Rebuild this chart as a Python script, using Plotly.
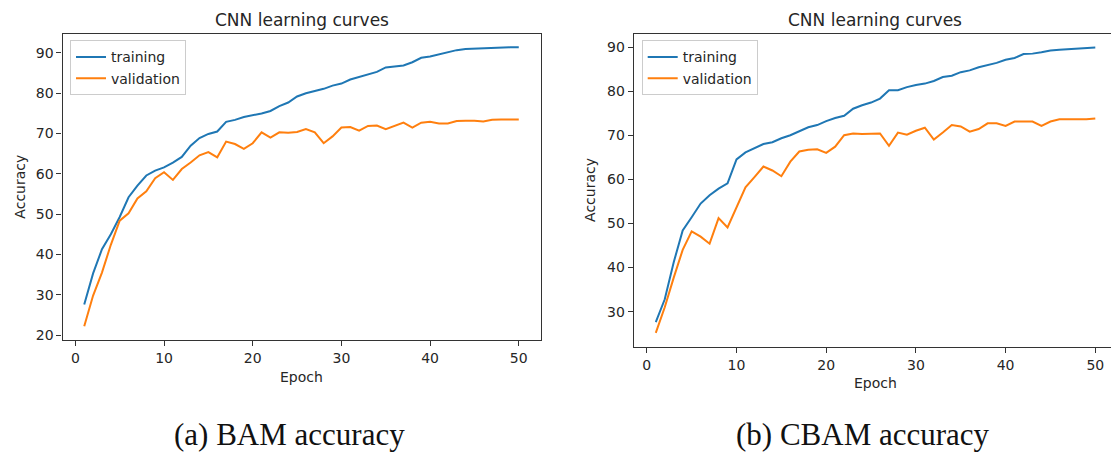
import plotly.graph_objects as go

# ---- data -------------------------------------------------------------
epochs = list(range(1, 51))

bam_train = [27.6, 35.3, 41.3, 45.0, 49.3, 54.2, 57.1, 59.6, 60.8, 61.6,
             62.8, 64.2, 67.0, 68.9, 69.9, 70.5, 72.9, 73.4, 74.1, 74.5,
             75.0, 75.6, 76.8, 77.7, 79.2, 80.0, 80.5, 81.1, 81.9, 82.4,
             83.4, 84.0, 84.6, 85.3, 86.4, 86.6, 86.9, 87.7, 88.8, 89.1,
             89.6, 90.2, 90.7, 91.0, 91.1, 91.2, 91.3, 91.3, 91.4, 91.4]
bam_val = [22.2, 29.8, 35.5, 42.4, 48.4, 50.2, 53.9, 55.7, 58.9, 60.4,
           58.5, 61.2, 62.8, 64.6, 65.4, 64.1, 68.0, 67.4, 66.2, 67.6,
           70.3, 69.0, 70.3, 70.2, 70.4, 71.1, 70.3, 67.6, 69.3, 71.5,
           71.6, 70.7, 71.9, 72.0, 71.1, 72.0, 72.7, 71.5, 72.7, 72.9,
           72.5, 72.5, 73.1, 73.2, 73.2, 73.0, 73.4, 73.5, 73.5, 73.5]

cbam_train = [27.6, 32.8, 41.2, 48.4, 51.4, 54.5, 56.4, 57.9, 59.1, 64.5,
              66.1, 67.1, 68.0, 68.4, 69.3, 70.0, 70.9, 71.8, 72.3, 73.2,
              73.9, 74.4, 76.0, 76.8, 77.4, 78.3, 80.2, 80.2, 80.9, 81.4,
              81.7, 82.3, 83.2, 83.5, 84.3, 84.7, 85.4, 85.9, 86.4, 87.1,
              87.5, 88.4, 88.5, 88.8, 89.2, 89.4, 89.5, 89.7, 89.7, 89.9]
cbam_val = [25.2, 31.0, 37.7, 44.0, 48.2, 47.0, 45.4, 51.2, 49.1, 53.7,
            58.2, 60.5, 62.9, 62.0, 60.7, 64.0, 66.3, 66.7, 66.8, 66.0,
            67.4, 70.0, 70.4, 70.3, 70.4, 70.4, 67.6, 70.6, 70.1, 71.0,
            71.7, 69.0, 70.6, 72.3, 72.0, 70.8, 71.4, 72.7, 72.7, 72.1,
            73.1, 73.1, 73.1, 72.1, 73.1, 73.6, 73.6, 73.6, 73.6, 73.8]

x_ticks = [0, 10, 20, 30, 40, 50]
left_y_ticks = [20, 30, 40, 50, 60, 70, 80, 90]
right_y_ticks = [30, 40, 50, 60, 70, 80, 90]
series_names = ["training", "validation"]
panel_title = "CNN learning curves"
x_label = "Epoch"
y_label = "Accuracy"
captions = ["(a) BAM accuracy", "(b) CBAM accuracy"]

# ---- styling ----------------------------------------------------------
W, H = 1111, 452
BLUE = "#1f77b4"
ORANGE = "#ff7f0e"
SPINE = "#333333"
TEXT = "#262626"
SANS = "DejaVu Sans"
SERIF = "Liberation Serif"


def fx(px):
    return px / W


def fy(px):
    return 1 - px / H


fig = go.Figure()

panels = [
    ("x", "y", "legend", bam_train, bam_val),
    ("x2", "y2", "legend2", cbam_train, cbam_val),
]
for xa, ya, lg, tr, va in panels:
    for name, vals, col in zip(series_names, [tr, va], [BLUE, ORANGE]):
        fig.add_trace(go.Scatter(
            x=epochs, y=vals, name=name, mode="lines",
            line=dict(color=col, width=2),
            xaxis=xa, yaxis=ya, legend=lg, hoverinfo="skip",
        ))

axis_common = dict(
    showline=True, linecolor=SPINE, linewidth=1.1,
    ticks="outside", ticklen=5, tickwidth=1.1, tickcolor=SPINE,
    showgrid=False, zeroline=False,
    tickfont=dict(family=SANS, size=14, color=TEXT),
)

legend_common = dict(
    xanchor="left", yanchor="top",
    bgcolor="rgba(255,255,255,0.8)", bordercolor="#cccccc", borderwidth=1,
    font=dict(family=SANS, size=14, color=TEXT),
    tracegroupgap=0,
)

fig.update_layout(
    width=W, height=H,
    margin=dict(l=0, r=0, t=0, b=0),
    paper_bgcolor="white", plot_bgcolor="white",
    showlegend=True,
    xaxis=dict(domain=[fx(62.5), fx(540.5)], range=[-1.45, 52.45],
               tickvals=x_ticks, mirror=True, anchor="y", **axis_common),
    yaxis=dict(domain=[fy(342.7), fy(34)], range=[18.67, 94.76],
               tickvals=left_y_ticks, mirror=True, anchor="x", **axis_common),
    xaxis2=dict(domain=[fx(633.8), 1.0], range=[-1.45, 51.75],
                tickvals=x_ticks, mirror=True, anchor="y2", **axis_common),
    yaxis2=dict(domain=[fy(349), fy(34)], range=[22.05, 93.0],
                tickvals=right_y_ticks, mirror=False, anchor="x2", **axis_common),
    legend=dict(x=fx(70), y=fy(40.7), **legend_common),
    legend2=dict(x=fx(641.7), y=fy(40.7), **legend_common),
)

annotations = []
# panel titles
for cx in (301.5, 875.4):
    annotations.append(dict(
        text=panel_title, x=fx(cx), y=fy(20), xref="paper", yref="paper",
        xanchor="center", yanchor="middle", showarrow=False,
        font=dict(family=SANS, size=17, color=TEXT)))
# axis labels
for cx, cy in ((301.5, 380), (875.4, 386)):
    annotations.append(dict(
        text=x_label, x=fx(cx), y=fy(cy), xref="paper", yref="paper",
        xanchor="center", yanchor="middle", showarrow=False,
        font=dict(family=SANS, size=14, color=TEXT)))
for cx, cy in ((19.6, 188.3), (590.7, 191.5)):
    annotations.append(dict(
        text=y_label, x=fx(cx), y=fy(cy), xref="paper", yref="paper",
        xanchor="center", yanchor="middle", textangle=-90, showarrow=False,
        font=dict(family=SANS, size=14, color=TEXT)))
# sub-figure captions
for cx, txt in zip((289, 863), captions):
    annotations.append(dict(
        text=txt, x=fx(cx), y=fy(437), xref="paper", yref="paper",
        xanchor="center", yanchor="middle", showarrow=False,
        font=dict(family=SERIF, size=31, color="#111111")))

fig.update_layout(annotations=annotations)

fig.write_html("out.html")
